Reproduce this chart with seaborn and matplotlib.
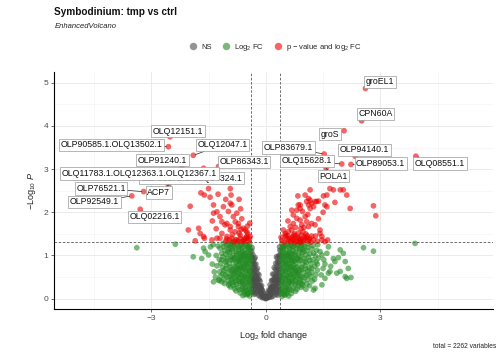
import numpy as np
import pandas as pd
import matplotlib
matplotlib.use("Agg")
import matplotlib.pyplot as plt
import seaborn as sns
from matplotlib.ticker import MultipleLocator

# points: (log2 fold change, -log10 p)
ns_pts = [
    (-0.37, 1.10), (-0.36, 0.95), (-0.35, 0.80), (-0.37, 0.65), (-0.36, 0.50), (-0.35, 0.35),
    (-0.37, 0.22), (-0.34, 1.02), (-0.33, 0.88), (-0.32, 0.72), (-0.33, 0.58), (-0.31, 0.45),
    (-0.34, 0.30), (-0.32, 0.15), (-0.30, 0.92), (-0.29, 0.78), (-0.30, 0.62), (-0.28, 0.50),
    (-0.29, 0.36), (-0.27, 0.24), (-0.30, 0.10), (-0.26, 0.80), (-0.25, 0.66), (-0.26, 0.54),
    (-0.24, 0.40), (-0.25, 0.28), (-0.23, 0.16), (-0.22, 0.70), (-0.21, 0.58), (-0.22, 0.45),
    (-0.20, 0.33), (-0.21, 0.20), (-0.19, 0.08), (-0.18, 0.55), (-0.17, 0.44), (-0.18, 0.30),
    (-0.16, 0.18), (-0.15, 0.40), (-0.14, 0.28), (-0.13, 0.14), (-0.15, 0.05), (-0.11, 0.30),
    (-0.10, 0.20), (-0.11, 0.08), (-0.08, 0.18), (-0.07, 0.09), (-0.05, 0.12), (-0.04, 0.04),
    (-0.02, 0.02), (-0.36, 1.18), (-0.35, 0.15), (-0.28, 0.95), (-0.37, 0.88), (-0.36, 0.42),
    (-0.33, 0.22), (-0.27, 0.12), (-0.09, 0.02), (-0.12, 0.22),
    (-0.36, 0.72), (-0.34, 0.58), (-0.35, 0.45), (-0.33, 0.40), (-0.31, 0.82), (-0.31, 0.30),
    (-0.28, 0.68), (-0.27, 0.40), (-0.24, 0.52), (-0.23, 0.30), (-0.20, 0.45), (-0.19, 0.22),
    (-0.16, 0.30), (-0.13, 0.25), (-0.12, 0.10), (-0.08, 0.05), (-0.06, 0.03), (-0.03, 0.06),
    (-0.38, 1.00), (-0.38, 0.50),
    (0.37, 1.12), (0.36, 0.97), (0.35, 0.82), (0.37, 0.67), (0.36, 0.52), (0.35, 0.37),
    (0.37, 0.20), (0.34, 1.00), (0.33, 0.86), (0.32, 0.70), (0.33, 0.56), (0.31, 0.43),
    (0.34, 0.28), (0.32, 0.13), (0.30, 0.94), (0.29, 0.76), (0.30, 0.60), (0.28, 0.48),
    (0.29, 0.34), (0.27, 0.22), (0.30, 0.08), (0.26, 0.82), (0.25, 0.68), (0.26, 0.52),
    (0.24, 0.38), (0.25, 0.26), (0.23, 0.14), (0.22, 0.72), (0.21, 0.56), (0.22, 0.43),
    (0.20, 0.31), (0.21, 0.18), (0.19, 0.06), (0.18, 0.57), (0.17, 0.42), (0.18, 0.28),
    (0.16, 0.16), (0.15, 0.42), (0.14, 0.26), (0.13, 0.12), (0.15, 0.04), (0.11, 0.32),
    (0.10, 0.18), (0.11, 0.06), (0.08, 0.20), (0.07, 0.10), (0.05, 0.13), (0.04, 0.03),
    (0.02, 0.01), (0.36, 1.20), (0.35, 0.16), (0.28, 0.97), (0.37, 0.90), (0.36, 0.44),
    (0.33, 0.20), (0.27, 0.10), (0.09, 0.03), (0.12, 0.20), (0.00, 0.00), (-0.01, 0.01),
    (0.36, 0.74), (0.34, 0.60), (0.35, 0.46), (0.33, 0.38), (0.31, 0.84), (0.31, 0.28),
    (0.28, 0.66), (0.27, 0.38), (0.24, 0.50), (0.23, 0.28), (0.20, 0.44), (0.19, 0.20),
    (0.16, 0.28), (0.13, 0.24), (0.12, 0.09), (0.08, 0.05), (0.06, 0.03), (0.03, 0.05),
    (0.38, 1.02), (0.38, 0.52),
]

fc_pts = [
    (-0.42, 1.27), (-0.50, 1.22), (-0.58, 1.28), (-0.66, 1.24), (-0.74, 1.29), (-0.83, 1.21),
    (-0.92, 1.26), (-1.02, 1.23), (-1.12, 1.28), (-1.25, 1.22), (-0.40, 1.13), (-0.47, 1.17),
    (-0.55, 1.11), (-0.63, 1.16), (-0.71, 1.12), (-0.80, 1.18), (-0.88, 1.10), (-0.97, 1.15),
    (-1.08, 1.12), (-1.20, 1.17), (-0.43, 1.03), (-0.51, 1.07), (-0.60, 1.01), (-0.68, 1.06),
    (-0.76, 1.04), (-0.86, 0.99), (-0.95, 1.07), (-1.05, 1.02), (-1.16, 1.05), (-1.30, 1.00),
    (-0.40, 0.93), (-0.48, 0.97), (-0.56, 0.92), (-0.65, 0.96), (-0.73, 0.91), (-0.82, 0.95),
    (-0.91, 0.90), (-1.00, 0.94), (-1.12, 0.97), (-1.22, 0.91), (-0.44, 0.84), (-0.52, 0.87),
    (-0.61, 0.82), (-0.69, 0.86), (-0.78, 0.83), (-0.87, 0.88), (-0.96, 0.81), (-1.06, 0.85),
    (-1.18, 0.82), (-0.41, 0.74), (-0.49, 0.77), (-0.57, 0.72), (-0.66, 0.76), (-0.74, 0.71),
    (-0.84, 0.75), (-0.93, 0.73), (-1.03, 0.77), (-1.14, 0.72), (-1.28, 0.76), (-0.45, 0.64),
    (-0.53, 0.67), (-0.62, 0.62), (-0.70, 0.66), (-0.79, 0.63), (-0.89, 0.67), (-0.99, 0.61),
    (-1.10, 0.65), (-1.21, 0.62), (-0.40, 0.54), (-0.48, 0.57), (-0.57, 0.52), (-0.66, 0.56),
    (-0.75, 0.53), (-0.85, 0.57), (-0.95, 0.51), (-1.06, 0.55), (-1.18, 0.52), (-1.32, 0.50),
    (-0.43, 0.44), (-0.51, 0.47), (-0.60, 0.42), (-0.69, 0.46), (-0.78, 0.43), (-0.88, 0.47),
    (-0.98, 0.41), (-1.10, 0.45), (-1.22, 0.42), (-0.41, 0.34), (-0.49, 0.37), (-0.58, 0.32),
    (-0.67, 0.36), (-0.77, 0.33), (-0.87, 0.37), (-0.97, 0.31), (-1.08, 0.35), (-0.44, 0.24),
    (-0.53, 0.27), (-0.62, 0.22), (-0.72, 0.26), (-0.82, 0.23), (-0.93, 0.27), (-0.40, 0.15),
    (-0.48, 0.12), (-0.57, 0.17), (-0.67, 0.13), (-0.78, 0.18), (-0.42, 0.06), (-0.50, 0.09),
    (-0.60, 0.07),
    (-2.37, 1.26), (-3.38, 1.18), (-1.90, 0.97), (-1.68, 0.93), (-1.63, 1.17), (-1.59, 1.09),
    (-1.50, 1.01), (-1.37, 0.39), (-1.24, 0.43), (-1.15, 0.39), (-1.45, 1.20), (-1.40, 0.80),
    (-1.38, 1.25), (-1.35, 0.62),
    (-0.45, 0.98), (-0.54, 0.80), (-0.63, 0.89), (-0.71, 0.58), (-0.59, 0.48), (-0.47, 0.30),
    (-0.55, 0.20), (-0.64, 0.40), (-0.46, 0.70), (-0.52, 1.00), (-0.61, 1.20), (-0.70, 0.95),
    (-0.77, 1.00), (-0.81, 0.60), (-0.90, 1.30), (-0.46, 1.20),
    (-0.44, 1.20), (-0.53, 1.25), (-0.62, 1.08), (-0.69, 1.19), (-0.78, 1.09), (-0.85, 1.26),
    (-0.94, 1.19), (-1.00, 1.08), (-0.41, 0.88), (-0.50, 0.92), (-0.58, 0.97), (-0.67, 0.90),
    (-0.75, 0.86), (-0.84, 0.92), (-0.92, 0.97), (-0.42, 0.62), (-0.51, 0.62), (-0.59, 0.68),
    (-0.68, 0.70), (-0.77, 0.67), (-0.86, 0.62), (-0.94, 0.66), (-0.45, 0.50), (-0.54, 0.52),
    (-0.63, 0.56), (-0.72, 0.50), (-0.81, 0.48), (-0.90, 0.53), (-0.44, 0.38), (-0.52, 0.40),
    (-0.61, 0.36), (-0.70, 0.40), (-0.80, 0.38), (-0.42, 0.20), (-0.51, 0.18), (-0.60, 0.28),
    (-0.69, 0.21), (-0.46, 0.11), (-0.55, 0.10), (-1.03, 0.88), (-1.10, 1.20), (-1.15, 0.90),
    (-1.05, 0.70), (-1.13, 0.58), (-1.02, 0.50), (-0.90, 0.41), (-0.85, 0.30), (-0.95, 0.35),
    (-0.48, 0.82), (-0.57, 0.78), (-0.64, 0.72), (-0.72, 0.79), (-0.80, 0.73), (-0.43, 1.10),
    (-0.56, 1.04), (-0.65, 1.02), (-0.73, 1.22), (-0.89, 1.15), (-0.98, 1.25),
    (0.42, 1.26), (0.50, 1.21), (0.58, 1.27), (0.66, 1.23), (0.74, 1.28), (0.83, 1.22),
    (0.92, 1.25), (1.02, 1.21), (1.12, 1.27), (1.24, 1.23), (1.36, 1.25), (0.40, 1.12),
    (0.47, 1.16), (0.55, 1.10), (0.63, 1.15), (0.71, 1.11), (0.80, 1.17), (0.88, 1.09),
    (0.97, 1.14), (1.08, 1.11), (1.20, 1.16), (1.33, 1.12), (0.43, 1.02), (0.51, 1.06),
    (0.60, 1.00), (0.68, 1.05), (0.76, 1.03), (0.86, 0.98), (0.95, 1.06), (1.05, 1.01),
    (1.16, 1.04), (1.30, 0.99), (0.40, 0.92), (0.48, 0.96), (0.56, 0.91), (0.65, 0.95),
    (0.73, 0.90), (0.82, 0.94), (0.91, 0.89), (1.00, 0.93), (1.12, 0.96), (1.24, 0.90),
    (1.38, 0.94), (0.44, 0.83), (0.52, 0.86), (0.61, 0.81), (0.69, 0.85), (0.78, 0.82),
    (0.87, 0.87), (0.96, 0.80), (1.06, 0.84), (1.18, 0.81), (1.32, 0.85), (0.41, 0.73),
    (0.49, 0.76), (0.57, 0.71), (0.66, 0.75), (0.74, 0.70), (0.84, 0.74), (0.93, 0.72),
    (1.03, 0.76), (1.14, 0.71), (1.28, 0.75), (0.45, 0.63), (0.53, 0.66), (0.62, 0.61),
    (0.70, 0.65), (0.79, 0.62), (0.89, 0.66), (0.99, 0.60), (1.10, 0.64), (1.21, 0.61),
    (1.35, 0.66), (0.40, 0.53), (0.48, 0.56), (0.57, 0.51), (0.66, 0.55), (0.75, 0.52),
    (0.85, 0.56), (0.95, 0.50), (1.06, 0.54), (1.18, 0.51), (1.31, 0.55), (0.43, 0.43),
    (0.51, 0.46), (0.60, 0.41), (0.69, 0.45), (0.78, 0.42), (0.88, 0.46), (0.98, 0.40),
    (1.10, 0.44), (1.22, 0.41), (0.41, 0.33), (0.49, 0.36), (0.58, 0.31), (0.67, 0.35),
    (0.77, 0.32), (0.87, 0.36), (0.97, 0.30), (1.08, 0.34), (0.44, 0.23), (0.53, 0.26),
    (0.62, 0.21), (0.72, 0.25), (0.82, 0.22), (0.93, 0.26), (1.05, 0.22), (0.40, 0.14),
    (0.48, 0.11), (0.57, 0.16), (0.67, 0.12), (0.78, 0.17), (0.42, 0.05), (0.50, 0.08),
    (0.60, 0.06),
    (3.91, 1.28), (2.56, 1.18), (2.82, 1.10), (1.64, 1.20), (1.95, 1.13), (2.03, 1.05),
    (1.77, 0.93), (1.81, 0.86), (2.08, 0.86), (2.16, 0.70), (1.86, 0.59), (1.95, 0.63),
    (2.08, 0.51), (2.12, 0.47), (2.23, 0.49), (1.55, 0.47), (1.64, 0.59), (1.47, 0.32),
    (1.29, 0.24), (1.25, 0.20), (1.47, 1.01), (1.42, 1.09), (1.68, 0.63), (1.55, 0.80),
    (1.50, 0.70), (1.60, 1.05), (1.45, 0.55), (1.52, 0.90), (1.70, 0.75), (1.90, 0.95),
    (0.45, 0.98), (0.54, 0.80), (0.63, 0.89), (0.71, 0.58), (0.59, 0.48), (0.47, 0.30),
    (0.55, 0.20), (0.64, 0.40), (0.46, 0.70), (0.52, 1.00), (0.61, 1.20), (0.70, 0.95),
    (0.77, 1.00), (0.81, 0.60), (0.90, 1.30), (0.46, 1.20),
    (0.44, 1.19), (0.53, 1.24), (0.62, 1.07), (0.69, 1.20), (0.78, 1.08), (0.85, 1.25),
    (0.94, 1.18), (1.00, 1.09), (0.41, 0.87), (0.50, 0.91), (0.58, 0.98), (0.67, 0.89),
    (0.75, 0.87), (0.84, 0.91), (0.92, 0.98), (0.42, 0.61), (0.51, 0.63), (0.59, 0.67),
    (0.68, 0.71), (0.77, 0.66), (0.86, 0.61), (0.94, 0.67), (0.45, 0.49), (0.54, 0.53),
    (0.63, 0.57), (0.72, 0.49), (0.81, 0.49), (0.90, 0.52), (0.44, 0.37), (0.52, 0.41),
    (0.61, 0.37), (0.70, 0.39), (0.80, 0.37), (0.42, 0.19), (0.51, 0.19), (0.60, 0.27),
    (0.69, 0.20), (0.46, 0.10), (0.55, 0.11), (1.03, 0.87), (1.10, 1.19), (1.15, 0.89),
    (1.05, 0.69), (1.13, 0.57), (1.02, 0.49), (0.90, 0.40), (0.85, 0.29), (0.95, 0.34),
    (0.48, 0.81), (0.57, 0.79), (0.64, 0.73), (0.72, 0.78), (0.80, 0.72), (0.43, 1.09),
    (0.56, 1.03), (0.65, 1.01), (0.73, 1.21), (0.89, 1.14), (0.98, 1.26), (1.20, 0.70),
    (1.25, 1.05), (1.28, 0.45), (1.15, 0.30), (1.35, 0.80),
]

sig_pts = [
    (-1.98, 2.14), (-1.70, 2.45), (-1.61, 2.40), (-1.50, 2.55), (-1.46, 2.35), (-0.93, 2.55),
    (-0.91, 2.40), (-1.37, 2.17), (-1.28, 2.01), (-1.20, 1.90), (-1.11, 2.13), (-1.15, 1.78),
    (-1.07, 1.71), (-0.89, 2.17), (-0.85, 1.90), (-0.93, 1.67), (-0.80, 1.55), (-0.72, 1.74),
    (-0.59, 1.63), (-0.67, 1.47), (-0.50, 1.55), (-0.54, 1.40), (-1.02, 1.44), (-1.20, 1.40),
    (-1.76, 1.63), (-1.72, 1.51), (-1.63, 1.44), (-2.03, 1.59), (-1.41, 1.36), (-0.80, 1.36),
    (-0.41, 1.44), (-1.85, 1.34), (-1.61, 1.40), (-1.37, 1.98), (-0.93, 2.21), (-0.76, 1.98),
    (-0.80, 1.78), (-0.72, 1.67), (-1.02, 1.74), (-0.93, 1.59), (-1.15, 1.51), (-1.28, 1.40),
    (-0.54, 1.59), (-0.50, 1.44), (-0.67, 1.40), (-1.02, 1.38), (-0.89, 1.40), (-0.76, 1.36),
    (-0.59, 1.36), (-0.50, 1.40), (-0.45, 1.33), (-0.62, 1.32), (-0.83, 1.31), (-1.05, 1.33),
    (-0.70, 1.52), (-0.88, 1.48), (-0.48, 1.68), (-0.63, 1.85), (-0.42, 1.75), (-1.30, 1.62),
    (-1.40, 1.80), (-0.98, 2.02), (-0.70, 2.30), (-1.25, 2.42), (-0.66, 2.08), (-1.05, 2.30),
    (-0.43, 1.38), (-0.56, 1.34), (-0.72, 1.33), (-0.95, 1.36), (-0.65, 1.60), (-0.47, 1.50),
    (1.16, 2.52), (1.03, 2.40), (0.84, 2.38), (1.68, 2.55), (2.03, 2.52), (2.12, 2.40),
    (1.51, 2.38), (1.60, 2.40), (1.12, 2.32), (1.07, 2.25), (1.20, 2.21), (1.29, 2.25),
    (1.38, 2.26), (0.85, 2.17), (0.90, 2.09), (0.81, 2.05), (0.68, 2.05), (1.16, 2.09),
    (1.25, 2.13), (1.12, 2.17), (1.55, 2.17), (1.60, 2.13), (1.81, 2.23), (2.21, 2.09),
    (2.82, 2.15), (2.88, 1.92), (0.81, 1.86), (0.90, 1.82), (1.03, 1.90), (1.07, 1.78),
    (0.72, 1.94), (0.94, 1.71), (1.12, 1.67), (1.20, 1.74), (1.29, 1.71), (0.64, 1.67),
    (0.68, 1.59), (0.59, 1.55), (0.51, 1.47), (1.42, 1.59), (1.47, 1.44), (1.42, 1.51),
    (1.47, 1.36), (0.46, 1.59), (0.51, 1.51), (0.72, 1.74), (1.95, 2.52), (1.77, 2.52),
    (1.16, 2.28), (1.33, 2.25), (0.90, 2.17), (0.65, 1.32), (0.72, 1.35), (0.80, 1.33),
    (0.88, 1.36), (0.95, 1.32), (1.02, 1.38), (1.10, 1.34), (1.18, 1.31), (1.25, 1.36),
    (0.70, 1.42), (0.78, 1.45), (0.86, 1.41), (0.93, 1.47), (1.00, 1.43), (1.08, 1.46),
    (0.62, 1.40), (0.75, 1.50), (0.85, 1.52), (0.97, 1.55), (1.05, 1.50), (0.42, 1.35),
    (0.48, 1.31), (0.55, 1.38), (1.35, 1.33), (1.55, 1.32), (1.62, 1.36), (0.58, 1.46),
    (1.15, 1.40), (0.40, 1.42), (1.30, 1.45), (0.92, 1.62), (1.00, 1.65), (0.78, 1.65),
    (1.38, 1.85), (1.10, 1.95), (0.96, 2.02), (1.50, 2.00), (0.58, 1.80),
    (0.68, 1.38), (0.76, 1.31), (0.83, 1.40), (0.91, 1.37), (0.99, 1.35), (1.06, 1.42),
    (1.13, 1.37), (0.60, 1.34), (0.53, 1.44), (0.73, 1.47), (0.89, 1.31), (1.20, 1.45),
]

# labelled genes
genes = ["groEL1", "CPN60A", "groS", "OLP83679.1", "OLP94140.1", "OLQ15628.1",
         "OLP89053.1", "OLQ08551.1", "POLA1", "OLQ12151.1", "OLP90585.1.OLQ13502.1",
         "OLQ12047.1", "OLP91240.1", "OLP86343.1", "OLP80371.1.OLQ04324.1",
         "OLQ11783.1.OLQ12363.1.OLQ12367.1", "OLP76521.1", "ACP7", "OLP92549.1",
         "OLQ02216.1"]
gene_fc = [2.61, 2.51, 2.05, 1.53, 2.34, 1.99, 2.23, 3.93, 1.58, -2.51, -2.55,
           -1.90, -2.20, -1.24, -1.00, -1.63, -3.20, -2.55, -3.51, -3.29]
gene_p = [4.87, 4.12, 3.89, 3.35, 3.30, 3.12, 3.11, 3.30, 3.02, 3.75, 3.52,
          3.32, 3.06, 3.06, 2.72, 3.02, 2.48, 2.63, 2.38, 2.07]

# where the label boxes sit (data units)
label_pos = [(2.99, 5.02), (2.87, 4.28), (1.69, 3.81), (0.59, 3.50), (2.59, 3.45),
             (1.08, 3.19), (3.01, 3.13), (4.56, 3.13), (1.77, 2.84), (-2.30, 3.88),
             (-4.03, 3.56), (-1.14, 3.56), (-2.70, 3.21), (-0.57, 3.17), (-1.95, 2.79),
             (-3.31, 2.90), (-4.32, 2.55), (-2.80, 2.46), (-4.49, 2.24), (-2.92, 1.90)]

fc_cut = 0.38
p_cut = 1.301
groups = ["NS", "Log$_2$ FC", "p \u2212 value and log$_2$ FC"]
colors = ["#4D4D4D", "#228B22", "#EE0000"]

rows = [(x, y, groups[0]) for x, y in ns_pts]
rows += [(x, y, groups[1]) for x, y in fc_pts]
rows += [(x, y, groups[2]) for x, y in sig_pts]
rows += [(x, y, groups[2]) for x, y in zip(gene_fc, gene_p)]
df = pd.DataFrame(rows, columns=["log2FC", "nlogp", "group"])

sns.set_theme(style="white")
plt.rcParams["font.family"] = ["Liberation Sans", "DejaVu Sans"]
plt.rcParams["mathtext.fontset"] = "custom"
plt.rcParams["mathtext.rm"] = "Liberation Sans"
plt.rcParams["mathtext.it"] = "Liberation Sans:italic"
plt.rcParams["mathtext.bf"] = "Liberation Sans:bold"

fig = plt.figure(figsize=(5.03, 3.53), dpi=100)
ax = fig.add_axes([0.108, 0.124, 0.872, 0.672])

sns.scatterplot(data=df, x="log2FC", y="nlogp", hue="group", hue_order=groups,
                palette=colors, s=17, alpha=0.6, linewidth=0, ax=ax, zorder=3)

ax.set_xlim(-5.54, 5.95)
ax.set_ylim(-0.245, 5.25)
ax.xaxis.set_major_locator(MultipleLocator(3))
ax.xaxis.set_minor_locator(MultipleLocator(1.5))
ax.yaxis.set_major_locator(MultipleLocator(1))
ax.yaxis.set_minor_locator(MultipleLocator(0.5))
ax.grid(which="major", color="#EBEBEB", lw=0.7, zorder=0)
ax.grid(which="minor", color="#F2F2F2", lw=0.4, zorder=0)
ax.set_axisbelow(True)

for s in ["top", "right"]:
    ax.spines[s].set_visible(False)
for s in ["left", "bottom"]:
    ax.spines[s].set_color("black")
    ax.spines[s].set_linewidth(0.8)
ax.tick_params(which="major", length=2.5, width=0.5, color="#333333",
               labelsize=6, labelcolor="#4D4D4D", pad=2, left=True, bottom=True)
ax.tick_params(which="minor", length=0)

for v in (-fc_cut, fc_cut):
    ax.axvline(v, color="#555555", lw=0.6, ls=(0, (3, 2)), zorder=2)
ax.axhline(p_cut, color="#555555", lw=0.6, ls=(0, (3, 2)), zorder=2)

ax.set_xlabel("Log$_2$ fold change", fontsize=6.5, color="#222222", labelpad=5)
ax.set_ylabel("$-$Log$_{10}$ $\\it{P}$", fontsize=6.5, color="#222222", labelpad=4)

for i, (g, x, y) in enumerate(zip(genes, gene_fc, gene_p)):
    lx, ly = label_pos[i]
    ax.annotate(g, xy=(x, y), xytext=(lx, ly), ha="center", va="center",
                fontsize=6.3, color="#111111", zorder=5 + i,
                bbox=dict(boxstyle="square,pad=0.18", fc="white", ec="#9A9A9A", lw=0.5),
                arrowprops=dict(arrowstyle="-", color="#222222", lw=0.5,
                                shrinkA=0, shrinkB=1.5))

h, l = ax.get_legend_handles_labels()
ax.legend(h, l, loc="center", bbox_to_anchor=(0.5, 1.105), ncol=3, frameon=False,
          fontsize=5.5, markerscale=1.3, handletextpad=0.05, columnspacing=0.9,
          borderaxespad=0)

fig.text(0.108, 0.966, "Symbodinium: tmp vs ctrl", fontsize=7.2, fontweight="bold",
         ha="left", va="center", color="#111111")
fig.text(0.108, 0.924, "EnhancedVolcano", fontsize=5.5, fontstyle="italic",
         ha="left", va="center", color="#222222")
fig.text(0.987, 0.017, "total = 2262 variables", fontsize=4.8, ha="right",
         va="center", color="#222222")

fig.savefig("out.png", dpi=100)
